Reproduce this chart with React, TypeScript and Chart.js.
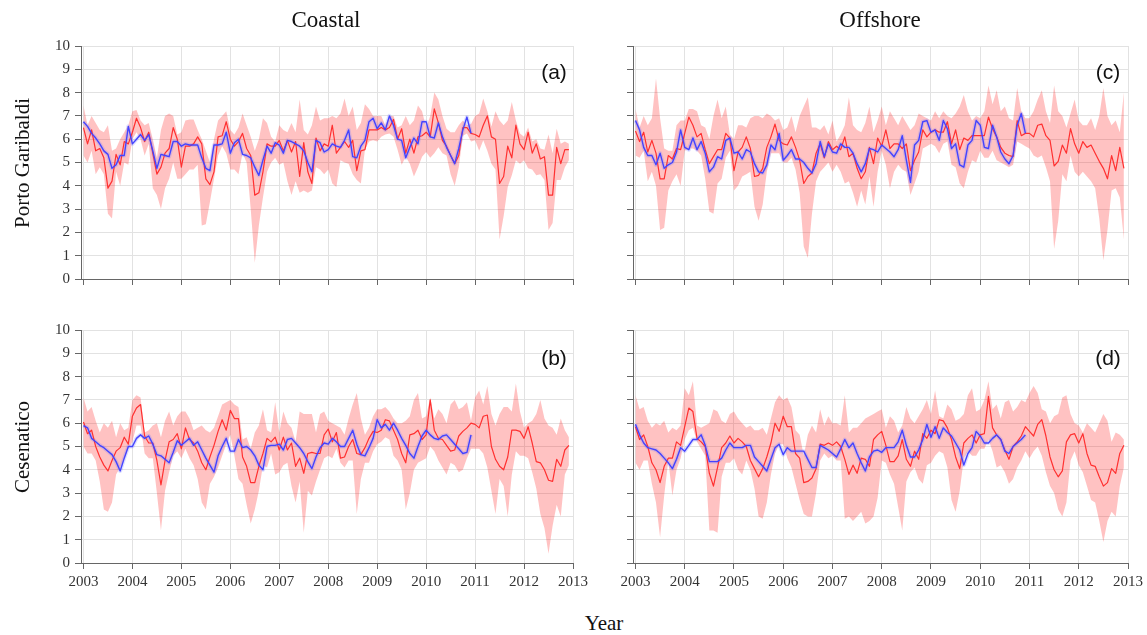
import React, { useEffect, useRef } from "react";
import { Chart, registerables } from "chart.js";

Chart.register(...registerables);

const YEAR_TICKS = [2003, 2004, 2005, 2006, 2007, 2008, 2009, 2010, 2011, 2012, 2013];
const Y_TICKS = [0, 1, 2, 3, 4, 5, 6, 7, 8, 9, 10];
const START_YEAR = 2003;

// (a) Porto Garibaldi – Coastal
const aRed = [
  6.5, 5.8, 6.4, 5.5, 5.6, 5.2, 3.9, 4.2, 5.35, 4.9, 5.9, 5.8,
  6.3, 6.9, 6.5, 5.9, 6.3, 5.4, 4.5, 4.8, 5.4, 5.6, 6.5, 6.0,
  4.8, 5.7, 5.7, 5.8, 6.1, 5.8, 4.3, 4.05, 4.6, 6.1, 6.15, 6.75,
  6.0, 5.7, 5.9, 6.25, 5.6, 5.3, 3.6, 3.7, 4.6, 5.8, 5.7, 5.7,
  5.95, 5.5, 5.95, 5.45, 5.9, 4.4, 5.85, 4.6, 4.1, 6.05, 5.5, 5.8,
  5.7, 6.6, 5.4, 5.65, 5.9, 5.65, 5.95, 4.65, 5.5, 5.55, 6.4, 6.4,
  6.4, 6.5, 6.4, 6.5, 6.85, 6.0, 6.45, 5.4, 6.0, 5.4, 6.1, 6.15,
  6.3, 6.1, 7.3, 6.7, 5.95, 5.7, 5.3, 4.95, 5.3, 6.5, 6.5, 6.25,
  6.2, 6.1, 6.6, 7.0, 6.1, 6.0, 4.1, 4.4, 5.7, 5.2, 6.6, 5.8,
  5.55, 6.3, 5.4, 5.8, 5.15, 5.25, 3.6, 3.6, 5.65, 4.95, 5.55, 5.55,
];
const aRedMax = [
  7.45, 6.6, 7.0, 6.7, 6.4, 6.3, 6.6, 5.5, 5.6, 6.0, 6.3, 6.6,
  7.2, 7.25, 6.8, 6.6, 6.7, 6.0, 5.2, 6.4, 7.0, 7.1, 7.0, 6.2,
  6.3, 6.8, 6.85, 6.85, 6.4, 6.0, 5.5, 5.0, 6.0, 6.8, 7.0, 7.2,
  6.4, 6.2, 6.5, 7.1, 6.6, 6.1, 5.5, 6.0, 6.9, 6.7, 6.1, 5.9,
  6.6, 6.4, 6.3, 6.7, 6.3, 7.7, 6.4, 6.2, 6.6, 7.4, 6.8, 6.9,
  6.9, 7.0, 6.9, 7.1, 7.75, 7.0, 7.4, 6.4, 6.7, 7.5, 7.3, 7.0,
  7.0, 7.0, 6.6, 7.0, 7.0, 6.5, 6.6, 7.0, 6.6, 6.8, 7.45, 7.2,
  6.5, 7.0, 8.0, 7.7, 7.0, 6.45, 6.3, 6.3, 6.6, 6.8, 6.6, 6.65,
  7.0, 7.1, 7.75, 7.2, 6.55, 7.2, 6.8, 6.6, 6.8, 7.6, 6.8, 6.25,
  6.1, 6.5, 5.9, 6.0, 5.6, 5.55, 6.2, 5.4, 6.45, 5.8, 5.9, 5.8,
];
const aRedMin = [
  5.3, 5.0, 5.5, 4.5, 4.8, 4.5, 2.8, 2.6, 4.6, 4.0, 5.0, 4.9,
  6.0, 6.3, 6.0, 5.3, 5.8, 3.9, 3.6, 3.0, 3.9, 4.3, 5.0, 4.3,
  4.3, 4.5, 4.7, 4.7, 4.9, 2.3, 2.35, 3.3, 4.3, 5.3, 5.7, 5.4,
  4.7, 4.7, 4.5, 5.4, 5.0, 3.0, 0.7, 2.3, 3.5, 4.6, 5.0, 5.2,
  4.9, 5.0, 4.2, 3.6, 4.2, 3.7, 3.8, 3.7, 3.8, 4.8, 4.7, 4.5,
  4.7, 4.1, 3.95, 5.1, 5.0, 4.95, 4.5, 4.25, 4.1, 5.55, 5.9, 5.95,
  5.9, 6.1, 6.2, 6.25, 6.1, 5.55, 4.9, 5.25, 4.95, 4.4, 4.8, 5.25,
  5.45, 5.2, 5.4, 5.65, 5.4, 5.3, 4.5, 4.0, 4.8, 6.15, 6.25, 5.9,
  5.95, 5.5, 5.95, 5.5, 4.95, 4.7, 1.7, 2.7, 3.95, 4.45, 5.1, 4.95,
  5.1, 4.75, 4.7, 4.45, 4.5, 4.25, 2.1, 2.4, 4.25, 4.25, 4.8, 5.1,
];
const aBlue = [
  6.75, 6.55, 6.25, 6.05, 5.8, 5.5, 5.35, 4.75, 4.9, 5.3, 5.3, 6.55,
  5.8, 6.0, 6.2, 5.95, 6.2, 5.5, 4.75, 5.35, 5.3, 5.25, 5.9, 5.9,
  5.7, 5.8, 5.75, 5.75, 5.75, 5.2, 4.75, 4.65, 5.75, 5.75, 5.8, 6.3,
  5.4, 5.85, 6.0, 5.35, 5.3, 5.2, 4.8, 4.45, 5.1, 5.7, 5.4, 5.85,
  5.75, 5.4, 5.95, 5.9, 5.8, 5.7, 5.5, 5.0, 4.6, 5.95, 5.85, 5.45,
  5.55, 5.8, 5.7, 5.65, 5.95, 6.4, 5.25, 5.2, 5.7, 5.95, 6.75, 6.9,
  6.45, 6.7, 6.4, 7.0, 6.6, 6.0, 5.95, 5.2, 5.65, 6.05, 5.8, 6.75,
  6.75, 6.1, 6.05, 6.7, 6.1, 5.65, 5.3, 4.95, 5.6, 6.4, 6.95, 6.25,
];

// (c) Porto Garibaldi – Offshore
const cRed = [
  6.35, 5.9, 6.3, 5.45, 5.95, 5.4, 4.3, 4.3, 5.3, 5.15, 5.6, 5.55,
  6.25, 6.95, 6.6, 6.1, 6.25, 5.55, 4.95, 5.25, 5.55, 5.55, 6.25, 6.05,
  4.65, 5.45, 5.65, 6.1, 5.6, 4.4, 4.45, 4.75, 5.65, 6.1, 6.65, 5.95,
  5.8, 5.75, 6.1, 5.65, 5.1, 4.1, 4.4, 4.55, 5.4, 5.8, 5.2, 5.9,
  5.55, 5.7, 5.55, 6.1, 5.25, 5.4, 4.75, 4.3, 4.6, 5.65, 4.95, 6.05,
  5.7, 6.4, 5.6, 5.8, 5.8, 5.6, 5.8, 4.65, 5.1, 5.45, 6.4, 6.1,
  6.3, 6.4, 6.3, 6.3, 6.75, 5.8, 6.4, 5.55, 6.05, 5.95, 6.15, 6.15,
  6.15, 6.15, 6.95, 6.45, 6.1, 5.65, 5.4, 5.3, 5.25, 6.8, 6.15, 6.25,
  6.25, 6.1, 6.6, 6.65, 6.15, 5.95, 4.85, 5.05, 5.75, 5.4, 6.45, 5.8,
  5.4, 5.9, 5.65, 5.75, 5.4, 5.05, 4.75, 4.3, 5.3, 4.65, 5.65, 4.75,
];
const cRedMax = [
  7.3, 6.5, 7.0, 6.6, 6.9, 8.6, 6.9, 5.6, 5.5, 5.5, 6.6, 6.8,
  6.8, 7.3, 7.3, 7.2, 6.6, 6.5, 6.0, 7.0, 7.7, 6.9, 7.4, 6.2,
  6.0, 6.6, 6.6, 6.5, 6.9, 7.0, 7.0, 6.9, 7.1, 7.0, 6.8, 6.9,
  6.4, 6.5, 7.0, 6.3, 7.0, 7.4, 7.8, 6.5, 6.5, 6.4, 6.6, 6.2,
  6.8, 5.9, 6.2, 6.6, 7.8, 6.6, 6.4, 6.3, 6.7, 7.4, 6.3, 6.8,
  7.4, 6.6, 7.2, 6.9, 6.6, 7.0, 6.7, 6.4, 6.6, 7.1, 7.0, 6.9,
  6.8, 7.2, 6.9, 7.2, 7.0, 6.9, 7.1, 7.4, 7.9, 7.2, 6.8, 7.0,
  6.9, 7.2, 8.3, 7.5, 8.1, 7.2, 7.4, 6.9, 6.8, 8.2, 7.2, 6.9,
  6.9, 7.2, 7.7, 8.1, 7.2, 6.7, 8.3, 7.2, 7.0, 6.5, 7.1, 7.7,
  6.8, 6.6, 6.6, 6.9, 6.4, 7.0, 8.2, 7.0, 6.6, 6.8, 6.3, 8.0,
];
const cRedMin = [
  5.3, 5.2, 5.5, 4.2, 4.6, 4.0, 2.1, 2.2, 3.8, 4.2, 4.5, 4.0,
  5.5, 5.6, 5.6, 5.5, 5.3, 4.3, 2.9, 2.8, 4.1, 4.3, 5.2, 5.5,
  3.8, 4.0, 4.4, 4.5, 4.6, 3.1, 2.5, 3.2, 4.6, 5.4, 5.4, 5.4,
  5.0, 5.0, 5.2, 4.7, 3.7, 1.4, 0.9, 2.8, 4.2, 4.6, 4.8, 5.0,
  4.6, 4.9, 4.6, 4.1, 4.2, 3.7, 3.1, 3.8, 3.2, 4.4, 3.1, 4.6,
  5.5, 4.9, 3.9, 4.6, 4.9, 4.7, 4.6, 3.6, 4.1, 4.6, 5.6, 5.7,
  5.8, 5.7, 5.4, 5.8, 5.9, 4.9, 4.8, 4.1, 3.9, 4.6, 5.1, 5.0,
  5.5, 5.2, 5.2, 5.5, 5.1, 5.0, 4.9, 4.8, 4.9, 5.9, 5.8, 5.7,
  5.6, 5.3, 5.2, 5.3, 4.8, 4.2, 1.3, 2.5, 4.5, 4.2, 5.3, 4.6,
  4.4, 4.6, 4.4, 4.2, 3.9, 2.6, 0.8, 2.1, 3.8, 3.9, 3.5, 1.7,
];
const cBlue = [
  6.8, 6.4, 5.65, 5.3, 5.3, 4.9, 5.4, 4.75, 4.9, 5.0, 5.45, 6.4,
  5.65, 5.55, 6.05, 5.55, 5.9, 5.4, 4.6, 4.8, 5.25, 5.15, 5.95, 6.05,
  5.4, 5.45, 5.15, 5.55, 5.45, 4.95, 4.6, 4.55, 4.9, 5.75, 5.55, 6.25,
  5.1, 5.3, 5.55, 5.15, 5.15, 5.0, 4.75, 4.55, 4.95, 5.9, 5.25, 5.8,
  5.45, 5.4, 5.8, 5.65, 5.65, 5.4, 4.95, 4.6, 4.95, 5.6, 5.55, 5.45,
  5.75, 5.6, 5.45, 5.25, 5.55, 6.15, 5.1, 4.15, 5.75, 5.95, 6.75, 6.8,
  6.3, 6.4, 5.95, 6.8, 6.45, 5.6, 5.8, 4.9, 4.8, 5.75, 5.95, 6.8,
  6.6, 5.65, 5.6, 6.6, 6.1, 5.45, 5.15, 4.95, 5.3, 6.6, 7.1, 6.25,
];

// (b) Cesenatico – Coastal
const bRed = [
  6.05, 5.55, 5.7, 5.0, 4.55, 4.2, 3.95, 4.4, 4.8, 4.95, 5.4, 5.1,
  6.3, 6.65, 6.8, 5.45, 5.15, 5.15, 4.4, 3.35, 4.4, 5.2, 5.3, 5.55,
  4.9, 5.8, 5.3, 5.15, 4.8, 4.3, 4.0, 4.55, 5.05, 5.65, 6.15, 5.7,
  6.55, 6.2, 6.2, 4.55, 4.15, 3.45, 3.45, 4.15, 4.7, 5.35, 5.2, 5.4,
  4.85, 5.4, 4.85, 5.15, 4.15, 4.5, 3.85, 4.7, 4.75, 4.7, 4.7, 5.5,
  5.75, 5.2, 5.6, 4.5, 4.55, 5.0, 5.3, 4.7, 4.65, 4.95, 5.35, 5.65,
  5.6, 5.7, 6.15, 6.1, 5.7, 5.3, 4.7, 4.3, 5.5, 5.55, 5.7, 5.3,
  5.5, 7.0, 5.7, 5.35, 5.3, 5.05, 4.8, 4.85, 5.45, 5.65, 5.8, 6.0,
  5.95, 5.8, 6.3, 6.35, 5.0, 4.45, 4.15, 4.0, 4.55, 5.7, 5.7, 5.65,
  5.35, 5.85, 5.15, 4.35, 4.3, 4.0, 3.55, 3.5, 4.45, 4.15, 4.85, 5.05,
];
const bRedMax = [
  7.1, 6.5, 6.7, 6.1, 5.6, 6.0, 5.8, 6.1, 5.4, 6.0, 5.7, 5.8,
  7.0, 7.2, 7.1, 5.6, 5.7, 5.9, 6.0, 5.4, 6.1, 6.5, 5.9, 6.3,
  6.5, 6.5, 6.2, 5.7, 5.8, 5.9, 5.7, 5.6, 5.8, 6.3, 6.8, 6.9,
  7.0, 6.8, 6.7, 5.3, 5.4, 4.9, 5.6, 5.9, 6.6, 5.7, 5.6, 6.9,
  5.6, 6.5, 6.0, 5.8, 5.2, 6.5, 6.4, 6.4, 6.4, 5.6, 6.4, 6.5,
  6.1, 6.0, 5.9, 5.8, 5.5, 6.2, 6.8, 7.3, 6.2, 5.5, 5.8, 6.3,
  6.6, 6.6, 6.7, 6.5, 6.2, 6.0, 6.0, 6.1, 6.3, 7.0, 7.3, 6.2,
  6.3, 7.1, 6.2, 6.6, 6.4, 6.0, 6.8, 7.0, 6.6, 6.7, 6.9, 6.1,
  7.1, 7.4, 6.8, 7.6, 6.4, 5.9, 6.4, 6.7, 6.7, 6.5, 7.7, 6.5,
  5.8, 6.0, 6.1, 6.4, 7.0, 6.2, 5.9, 5.8, 5.5, 6.2, 5.7, 5.4,
];
const bRedMin = [
  5.0, 4.7, 4.7, 4.4, 3.5, 2.3, 2.2, 2.6, 3.8, 4.1, 4.5, 4.9,
  5.2, 5.9, 5.9, 4.7, 4.5, 4.5, 3.0, 1.4, 3.1, 3.9, 4.6, 4.8,
  4.5, 4.9, 4.5, 4.2, 3.6, 2.6, 2.3, 3.4, 3.7, 4.1, 4.6, 5.1,
  5.5, 4.6, 3.6, 3.4, 2.5, 1.7, 2.3, 3.1, 4.2, 4.1, 4.7, 3.8,
  3.9, 4.2, 4.3, 3.3, 2.6, 3.5, 1.3, 3.1, 2.9, 3.5, 4.0, 4.5,
  4.6, 4.5, 4.9, 4.3, 4.1, 4.4, 4.4, 2.1, 3.6, 4.3, 4.3, 4.8,
  5.1, 5.2, 5.4, 5.3, 4.6, 4.4, 4.0, 2.3, 3.0, 4.0, 4.3, 4.4,
  4.5, 5.0, 4.8, 4.4, 4.1, 3.8, 4.3, 4.2, 3.9, 4.0, 4.5, 4.9,
  4.9, 4.9, 4.7, 4.1, 3.1, 2.1, 3.6, 3.3, 2.0, 3.8, 4.8, 4.6,
  4.6, 4.5, 3.9, 3.2, 2.1, 1.5, 0.4, 1.6, 2.5, 2.0, 3.8, 4.2,
];
const bBlue = [
  5.9, 5.8, 5.35, 5.2, 5.05, 4.95, 4.8, 4.65, 4.35, 3.95, 4.5, 5.0,
  5.0, 5.35, 5.5, 5.35, 5.45, 5.1, 4.65, 4.6, 4.45, 4.3, 4.75, 5.25,
  5.05, 5.2, 5.35, 5.05, 5.2, 4.85, 4.5, 4.2, 3.9, 4.6, 5.0, 5.35,
  4.8, 4.8, 5.3, 4.95, 5.0, 4.85, 4.6, 4.2, 4.0, 5.0, 5.05, 5.05,
  5.1, 4.85, 5.3, 5.35, 5.15, 4.95, 4.7, 4.35, 4.05, 4.55, 4.95, 5.15,
  5.1, 5.35, 5.2, 5.0, 5.0, 5.35, 5.7, 5.1, 4.65, 4.6, 4.95, 5.35,
  6.15, 5.8, 5.95, 5.7, 6.0, 5.7, 5.35, 5.05, 4.7, 4.5, 5.0, 5.45,
  5.7, 5.5, 5.35, 5.3, 5.45, 5.5, 5.3, 5.1, 4.9, 4.7, 4.75, 5.5,
];

// (d) Cesenatico – Offshore
const dRed = [
  5.85, 5.3, 5.5, 5.0, 4.3, 4.0, 3.45, 4.15, 4.5, 4.5, 5.2, 5.05,
  5.85, 6.65, 6.5, 5.35, 5.2, 5.0, 3.85, 3.3, 4.1, 4.95, 5.15, 5.45,
  5.15, 5.35, 5.2, 5.0, 4.4, 4.05, 3.7, 4.05, 4.55, 5.15, 6.0, 5.65,
  6.3, 5.85, 5.85, 4.7, 4.5, 3.45, 3.5, 3.65, 4.05, 5.1, 5.05, 5.15,
  5.05, 5.2, 5.0, 4.45, 3.8, 4.2, 3.85, 4.5, 4.45, 4.15, 5.3, 5.5,
  5.65, 5.05, 4.35, 4.35, 4.6, 5.3, 4.45, 4.15, 4.8, 4.45, 5.55, 5.35,
  5.7, 5.55, 6.15, 6.1, 5.8, 5.3, 4.55, 4.05, 5.15, 5.35, 5.5, 5.15,
  5.5, 5.55, 7.15, 5.8, 5.5, 5.3, 4.85, 4.45, 5.0, 5.2, 5.45, 5.85,
  5.65, 5.45, 5.95, 6.15, 5.45, 4.55, 4.0, 3.7, 3.95, 5.2, 5.5, 5.55,
  5.15, 5.55, 4.7, 4.2, 4.15, 3.7, 3.3, 3.45, 4.05, 3.85, 4.7, 5.05,
];
const dRedMax = [
  7.2, 6.6, 6.7, 6.1, 5.8, 6.0, 5.9, 6.1, 5.6, 5.8, 5.7, 5.9,
  7.5, 7.2, 7.8, 5.9, 5.8, 5.9, 6.0, 6.6, 6.5, 6.1, 6.0, 6.4,
  6.5, 6.2, 6.0, 5.8, 5.9, 5.7, 5.7, 5.8, 5.5, 6.2, 6.9, 7.2,
  7.0, 7.1, 6.7, 5.7, 5.5, 4.6, 5.5, 5.9, 5.6, 6.6, 5.9, 6.3,
  6.0, 6.0, 5.9, 7.2, 5.6, 5.8, 5.8, 6.0, 6.2, 6.3, 6.4, 6.5,
  6.6, 5.8, 6.3, 6.1, 5.6, 5.9, 6.7, 6.2, 6.0, 6.3, 6.6, 7.0,
  6.4, 7.4, 6.3, 6.2, 6.8, 6.6, 6.1, 6.2, 6.4, 7.2, 7.5, 6.5,
  6.6, 7.0, 7.8, 6.6, 6.8, 6.2, 6.9, 7.0, 6.5, 6.7, 7.0, 6.9,
  7.3, 7.6, 7.3, 6.6, 6.5, 6.0, 6.3, 6.4, 7.1, 7.2, 6.4, 6.0,
  5.9, 5.6, 6.0, 5.8, 5.6, 6.0, 6.4, 6.1, 5.2, 5.6, 5.5, 5.3,
];
const dRedMin = [
  4.3, 4.0, 4.4, 4.4, 3.4, 2.6, 1.1, 2.9, 4.4, 2.9, 4.0, 4.5,
  5.3, 5.7, 5.8, 5.2, 4.9, 4.6, 1.4, 1.4, 1.3, 3.7, 4.3, 4.3,
  4.5, 4.0, 3.8, 4.4, 4.0, 3.2, 2.0, 1.9, 2.6, 3.8, 4.7, 5.1,
  5.1, 4.5, 4.1, 3.4, 2.7, 2.1, 2.0, 2.0, 3.0, 4.4, 4.7, 4.5,
  4.6, 4.4, 4.4, 1.9, 2.0, 1.8, 2.0, 2.2, 1.7, 1.8, 2.0, 2.8,
  4.4, 4.3, 3.8, 3.4, 2.4, 1.4, 3.5, 3.9, 4.1, 3.6, 3.4, 4.2,
  4.3, 4.6, 4.8, 4.7, 4.1, 2.7, 2.2, 3.1, 4.5, 4.8, 4.6, 4.6,
  4.9, 4.9, 5.3, 4.8, 4.1, 4.2, 3.9, 3.4, 3.6, 4.1, 4.4, 4.8,
  4.5, 4.8, 5.0, 4.6, 3.9, 3.3, 3.0, 2.3, 2.0, 2.6, 4.4, 4.8,
  4.2, 3.9, 3.3, 2.7, 2.6, 1.8, 0.9, 1.8, 2.2, 2.0, 3.3, 4.1,
];
const dBlue = [
  5.95, 5.5, 5.15, 4.95, 4.9, 4.85, 4.7, 4.5, 4.3, 4.05, 4.45, 4.95,
  4.8, 5.05, 5.3, 5.3, 5.5, 5.05, 4.35, 4.35, 4.35, 4.5, 4.85, 5.15,
  4.95, 4.95, 4.95, 5.05, 5.05, 4.55, 4.35, 4.15, 3.95, 4.45, 4.95, 5.1,
  4.65, 4.95, 4.8, 4.8, 4.8, 4.8, 4.45, 4.1, 4.1, 5.05, 4.95, 4.85,
  4.7, 4.55, 4.9, 5.3, 4.95, 5.15, 4.7, 4.3, 3.95, 4.55, 4.8, 4.85,
  4.75, 4.95, 4.95, 4.95, 5.2, 5.7, 5.05, 4.55, 4.55, 4.85, 5.3, 5.95,
  5.4, 5.85, 5.35, 5.8, 5.6, 5.45, 5.15, 4.85, 4.2, 4.7, 4.95, 5.65,
  5.45, 5.15, 5.15, 5.35, 5.5, 5.3, 4.8, 4.7, 5.0, 5.15, 5.3, 5.5,
];

const SERIF = '"Liberation Serif", "Times New Roman", Times, serif';
const SANS = '"Liberation Sans", Arial, Helvetica, sans-serif';

const PAD_L = 60;
const PAD_T = 16;
const PAD_R = 20;
const PAD_B = 40;
const Y_AXIS_W = 45;
const X_AXIS_H = 34;

type PanelProps = {
  left: number;
  top: number;
  width: number;
  height: number;
  red: number[];
  redMax: number[];
  redMin: number[];
  blue: number[];
  showX: boolean;
  showY: boolean;
};

function toPoints(arr: number[]) {
  return arr.map((v, i) => ({ x: START_YEAR + i / 12, y: v }));
}

function Panel(props: PanelProps) {
  const ref = useRef<HTMLCanvasElement | null>(null);
  const { left, top, width, height, red, redMax, redMin, blue, showX, showY } = props;
  const cw = width + PAD_L + PAD_R;
  const ch = height + PAD_T + PAD_B;

  useEffect(() => {
    if (!ref.current) return;
    const chart = new Chart(ref.current, {
      type: "line",
      data: {
        datasets: [
          {
            data: toPoints(blue),
            borderColor: "#4343ff",
            borderWidth: 1.4,
            pointRadius: 0,
            fill: false,
            tension: 0,
            borderJoinStyle: "round",
          },
          {
            data: toPoints(red),
            borderColor: "#ff3030",
            borderWidth: 1.2,
            pointRadius: 0,
            fill: false,
            tension: 0,
            borderJoinStyle: "round",
          },
          {
            data: toPoints(blue),
            borderColor: "rgba(120,125,255,0.25)",
            borderWidth: 4,
            pointRadius: 0,
            fill: false,
            tension: 0,
            borderJoinStyle: "round",
          },
          {
            data: toPoints(redMax),
            borderColor: "rgba(0,0,0,0)",
            borderWidth: 0,
            backgroundColor: "rgba(255,20,20,0.26)",
            pointRadius: 0,
            fill: "+1",
            tension: 0,
          },
          {
            data: toPoints(redMin),
            borderColor: "rgba(0,0,0,0)",
            borderWidth: 0,
            pointRadius: 0,
            fill: false,
            tension: 0,
          },
        ],
      },
      options: {
        animation: false,
        responsive: false,
        maintainAspectRatio: false,
        events: [],
        layout: {
          padding: {
            left: PAD_L - Y_AXIS_W,
            top: PAD_T,
            right: PAD_R,
            bottom: PAD_B - X_AXIS_H,
          },
        },
        plugins: {
          legend: { display: false },
          tooltip: { enabled: false },
          title: { display: false },
        },
        scales: {
          x: {
            type: "linear",
            min: 2002.95,
            max: 2013,
            afterBuildTicks: (s: any) => {
              s.ticks = YEAR_TICKS.map((v) => ({ value: v }));
            },
            afterFit: (s: any) => {
              s.height = X_AXIS_H;
            },
            grid: {
              color: "#e2e2e2",
              tickColor: "#666",
              tickLength: 6,
              lineWidth: 1,
            },
            border: { display: true, color: "#666", width: 1 },
            ticks: {
              display: showX,
              color: "#333",
              font: { family: SERIF, size: 15 },
              padding: 4,
              maxRotation: 0,
              autoSkip: false,
              callback: (v: any) => String(v),
            },
          },
          y: {
            type: "linear",
            min: 0,
            max: 10,
            afterBuildTicks: (s: any) => {
              s.ticks = Y_TICKS.map((v) => ({ value: v }));
            },
            afterFit: (s: any) => {
              s.width = Y_AXIS_W;
            },
            grid: {
              color: "#e2e2e2",
              tickColor: "#666",
              tickLength: 6,
              lineWidth: 1,
            },
            border: { display: true, color: "#666", width: 1 },
            ticks: {
              display: showY,
              color: "#333",
              font: { family: SERIF, size: 15 },
              padding: 5,
              callback: (v: any) => String(v),
            },
          },
        },
      },
    } as any);
    return () => chart.destroy();
  }, []);

  return (
    <canvas
      ref={ref}
      width={cw}
      height={ch}
      style={{
        position: "absolute",
        left: left - PAD_L,
        top: top - PAD_T,
        width: cw,
        height: ch,
      }}
    />
  );
}

function Label(props: { x: number; y: number; text: string; size: number; family: string; rotate?: boolean }) {
  const { x, y, text, size, family, rotate } = props;
  return (
    <div
      style={{
        position: "absolute",
        left: x,
        top: y,
        transform: `translate(-50%, -50%)${rotate ? " rotate(-90deg)" : ""}`,
        fontFamily: family,
        fontSize: size,
        color: "#111",
        whiteSpace: "nowrap",
        lineHeight: 1,
      }}
    >
      {text}
    </div>
  );
}

export default function App() {
  return (
    <div
      style={{
        position: "absolute",
        left: 0,
        top: 0,
        width: 1147,
        height: 635,
        background: "#fff",
        overflow: "hidden",
      }}
    >
      <Panel left={81} top={46} width={492} height={233} red={aRed} redMax={aRedMax} redMin={aRedMin} blue={aBlue} showX={false} showY={true} />
      <Panel left={633} top={46} width={495} height={233} red={cRed} redMax={cRedMax} redMin={cRedMin} blue={cBlue} showX={false} showY={false} />
      <Panel left={81} top={330} width={492} height={233} red={bRed} redMax={bRedMax} redMin={bRedMin} blue={bBlue} showX={true} showY={true} />
      <Panel left={633} top={330} width={495} height={233} red={dRed} redMax={dRedMax} redMin={dRedMin} blue={dBlue} showX={true} showY={false} />

      <Label x={326} y={19} text="Coastal" size={23} family={SERIF} />
      <Label x={880} y={19} text="Offshore" size={23} family={SERIF} />
      <Label x={22} y={163} text="Porto Garibaldi" size={21} family={SERIF} rotate />
      <Label x={22} y={447} text="Cesenatico" size={21} family={SERIF} rotate />
      <Label x={604} y={623} text="Year" size={21} family={SERIF} />

      <Label x={554} y={71} text="(a)" size={21} family={SANS} />
      <Label x={1108} y={71} text="(c)" size={21} family={SANS} />
      <Label x={554} y={357} text="(b)" size={21} family={SANS} />
      <Label x={1108} y={357} text="(d)" size={21} family={SANS} />
    </div>
  );
}
